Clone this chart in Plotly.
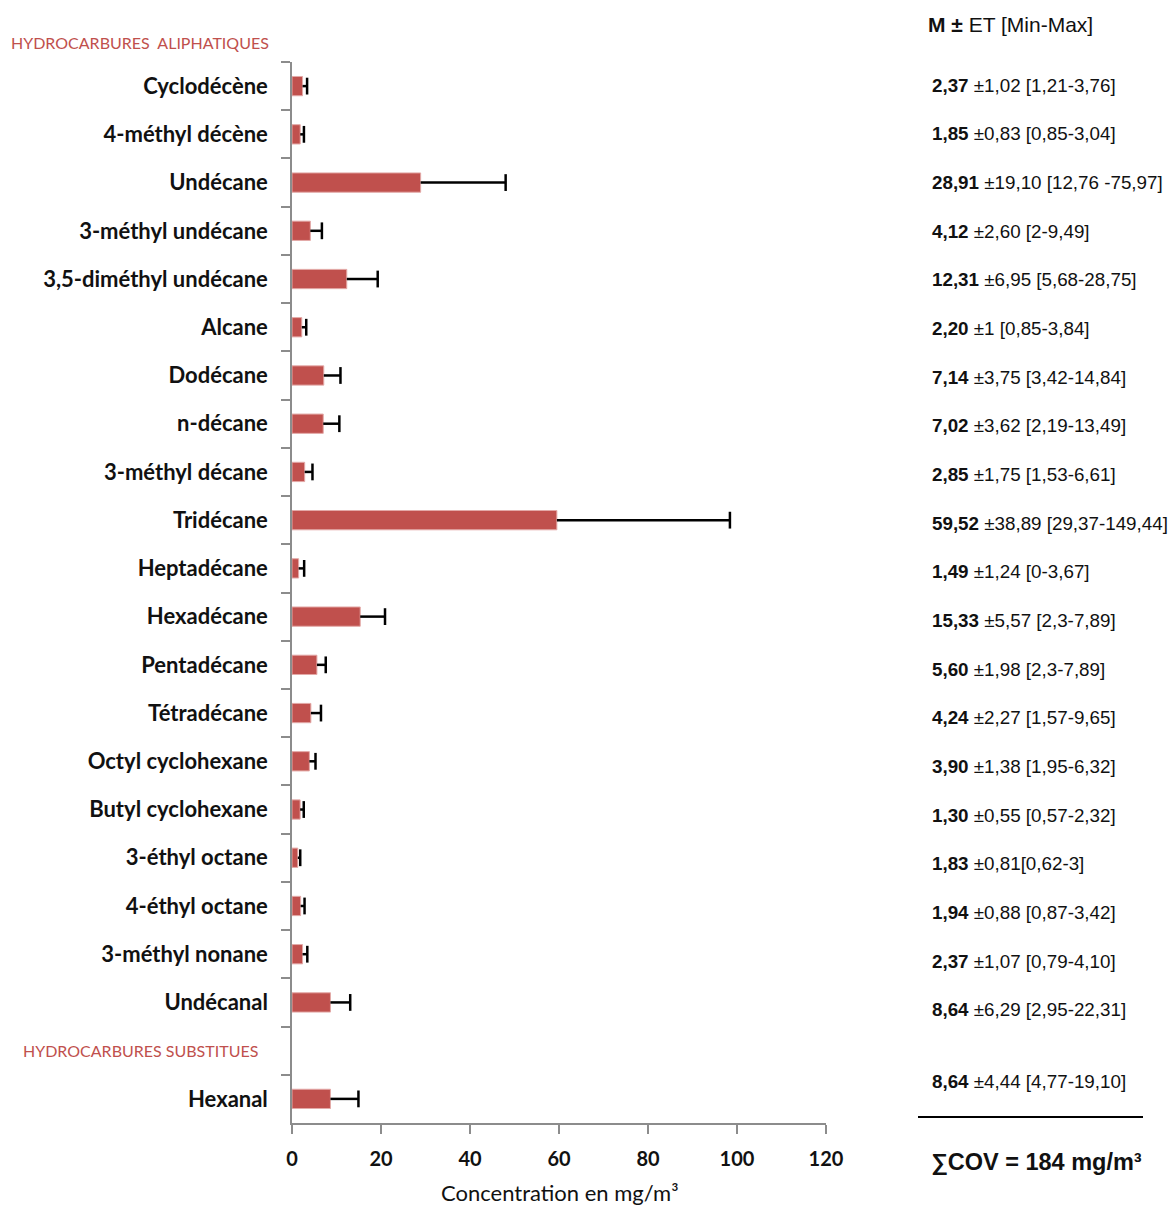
import plotly.graph_objects as go

# ---------------- data ----------------
categories = ["Cyclodécène", "4-méthyl décène", "Undécane", "3-méthyl undécane",
              "3,5-diméthyl undécane", "Alcane", "Dodécane", "n-décane",
              "3-méthyl décane", "Tridécane", "Heptadécane", "Hexadécane",
              "Pentadécane", "Tétradécane", "Octyl cyclohexane", "Butyl cyclohexane",
              "3-éthyl octane", "4-éthyl octane", "3-méthyl nonane", "Undécanal",
              " ", "Hexanal"]

# bar lengths and (positive) error bars as drawn in the chart
bar_mean = [2.37, 1.85, 28.91, 4.12, 12.31, 2.20, 7.14, 7.02, 2.85, 59.52, 1.49, 15.33,
            5.60, 4.24, 3.90, 1.83, 1.30, 1.94, 2.37, 8.64, None, 8.64]
bar_sd = [1.02, 0.83, 19.10, 2.60, 6.95, 1.00, 3.75, 3.62, 1.75, 38.89, 1.24, 5.57,
          1.98, 2.27, 1.38, 0.81, 0.55, 0.88, 1.07, 4.44, None, 6.29]

# right-hand text column
text_mean = ["2,37", "1,85", "28,91", "4,12", "12,31", "2,20", "7,14", "7,02", "2,85",
             "59,52", "1,49", "15,33", "5,60", "4,24", "3,90", "1,30", "1,83", "1,94",
             "2,37", "8,64", None, "8,64"]
text_rest = ["±1,02 [1,21-3,76]", "±0,83 [0,85-3,04]", "±19,10 [12,76 -75,97]",
             "±2,60 [2-9,49]", "±6,95 [5,68-28,75]", "±1 [0,85-3,84]",
             "±3,75 [3,42-14,84]", "±3,62 [2,19-13,49]", "±1,75 [1,53-6,61]",
             "±38,89 [29,37-149,44]", "±1,24 [0-3,67]", "±5,57 [2,3-7,89]",
             "±1,98 [2,3-7,89]", "±2,27 [1,57-9,65]", "±1,38 [1,95-6,32]",
             "±0,55 [0,57-2,32]", "±0,81[0,62-3]", "±0,88 [0,87-3,42]",
             "±1,07 [0,79-4,10]", "±6,29 [2,95-22,31]", None, "±4,44 [4,77-19,10]"]

x_ticks = [0, 20, 40, 60, 80, 100, 120]
x_title = "Concentration en mg/m³"
header = "<b>M ±</b> ET [Min-Max]"
total_text = "<b>∑COV = 184 mg/m³</b>"
group_labels = ["HYDROCARBURES  ALIPHATIQUES", "HYDROCARBURES SUBSTITUES"]

# ---------------- layout geometry ----------------
W, H = 1171, 1205
L, R, T, B = 292, 345, 62, 82
PW, PH = W - L - R, H - T - B


def px_x(px):
    return (px - L) / PW


def px_y(py):
    return (H - B - py) / PH


BAR_COLOR = "#C0504D"
AXIS_COLOR = "#8C8C8C"
LABEL_FONT = "Lato"

fig = go.Figure()

caps_x = [(m + s) if m is not None else None for m, s in zip(bar_mean, bar_sd)]

fig.add_trace(go.Bar(
    y=categories, x=bar_mean, orientation="h",
    marker=dict(color=BAR_COLOR, line=dict(color="#E3A9A7", width=1)),
    error_x=dict(type="data", array=[s if s is not None else 0 for s in bar_sd],
                 arrayminus=[0] * len(bar_sd), symmetric=False,
                 width=0, thickness=2.5, color="black"),
    hoverinfo="x+y", showlegend=False,
))
fig.add_trace(go.Scatter(
    y=categories, x=caps_x, mode="markers",
    marker=dict(symbol="line-ns", size=12, line=dict(width=2.5, color="black")),
    hoverinfo="skip", showlegend=False,
))

fig.update_layout(
    width=W, height=H,
    margin=dict(l=L, r=R, t=T, b=B),
    paper_bgcolor="white", plot_bgcolor="white",
    bargap=0.6,
    xaxis=dict(range=[0, 120], tickvals=x_ticks, showline=True, linecolor=AXIS_COLOR,
               linewidth=1.5, ticks="outside", ticklen=9, tickwidth=1.5,
               tickcolor=AXIS_COLOR, showgrid=False, zeroline=False,
               tickfont=dict(family=LABEL_FONT, size=20, color="#111111", weight="bold"),
               ticklabelstandoff=8),
    yaxis=dict(categoryorder="array", categoryarray=categories, type="category",
               range=[len(categories) - 0.5, -0.5], showline=True, linecolor=AXIS_COLOR,
               linewidth=1.5, ticks="outside", ticklen=9, tickwidth=1.5,
               tickcolor=AXIS_COLOR, tickson="boundaries", showgrid=False,
               zeroline=False,
               tickfont=dict(family=LABEL_FONT, size=22, color="#111111", weight="bold"),
               ticklabelstandoff=18),
)

annotations = []
for i, (cat, m, rest) in enumerate(zip(categories, text_mean, text_rest)):
    if m is None:
        continue
    shift = 17 if cat == "Hexanal" else -(0.45 * i - 1)
    annotations.append(dict(
        x=px_x(930), xref="paper", y=cat, yref="y", yshift=shift,
        text=f"<b>{m}</b> {rest}", showarrow=False, xanchor="left", yanchor="middle",
        font=dict(family="Liberation Sans", size=18.8, color="#111111"),
    ))

annotations.append(dict(
    x=px_x(926), xref="paper", y=px_y(25), yref="paper", text=header,
    showarrow=False, xanchor="left", yanchor="middle",
    font=dict(family="Liberation Sans", size=21, color="#111111"),
))
annotations.append(dict(
    x=px_x(1036), xref="paper", y=px_y(1162), yref="paper", text=total_text,
    showarrow=False, xanchor="center", yanchor="middle",
    font=dict(family="Liberation Sans", size=23.5, color="#111111"),
))
annotations.append(dict(
    x=px_x(560), xref="paper", y=px_y(1192), yref="paper", text=x_title,
    showarrow=False, xanchor="center", yanchor="middle",
    font=dict(family=LABEL_FONT, size=22, color="#111111"),
))
annotations.append(dict(
    x=px_x(9), xref="paper", y=px_y(42), yref="paper", text=group_labels[0],
    showarrow=False, xanchor="left", yanchor="middle",
    font=dict(family=LABEL_FONT, size=16, color=BAR_COLOR),
))
annotations.append(dict(
    x=px_x(21), xref="paper", y=px_y(1050), yref="paper", text=group_labels[1],
    showarrow=False, xanchor="left", yanchor="middle",
    font=dict(family=LABEL_FONT, size=16, color=BAR_COLOR),
))

fig.update_layout(annotations=annotations)
fig.add_shape(type="line", xref="paper", yref="paper",
              x0=px_x(918), x1=px_x(1143), y0=px_y(1117), y1=px_y(1117),
              line=dict(color="black", width=2))

fig.write_html("out.html", config={"displayModeBar": False},
               post_script="document.body.style.margin='0';")
